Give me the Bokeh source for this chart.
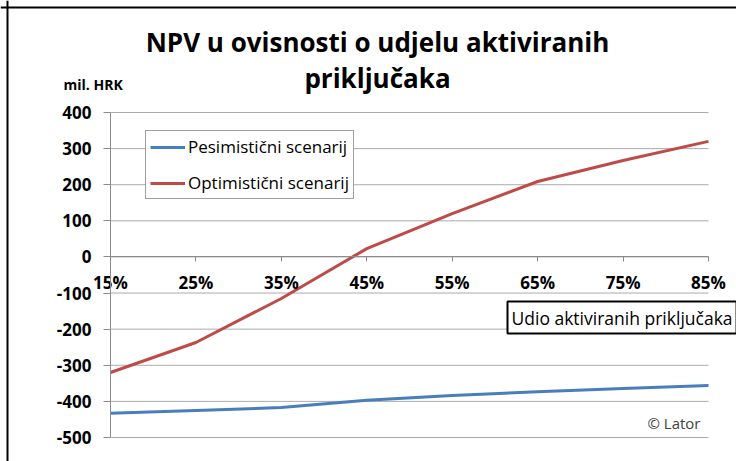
from bokeh.plotting import figure
from bokeh.models import Label, Legend, LegendItem, FixedTicker, Range1d, Span
from bokeh.embed import file_html
from bokeh.resources import INLINE

shares = [15, 25, 35, 45, 55, 65, 75, 85]
share_labels = ["15%", "25%", "35%", "45%", "55%", "65%", "75%", "85%"]
pessimistic = [-433, -425, -417, -397, -384, -373, -364, -356]
optimistic = [-320, -237, -115, 23, 120, 209, 267, 320]
y_ticks = [-500, -400, -300, -200, -100, 0, 100, 200, 300, 400]
y_tick_labels = ["-500", "-400", "-300", "-200", "-100", "0", "100", "200", "300", "400"]

title_lines = ["NPV u ovisnosti o udjelu aktiviranih", "priključaka"]
unit_label = "mil. HRK"
x_title = "Udio aktiviranih priključaka"
credit = "© Lator"
series_names = ["Pesimistični scenarij", "Optimistični scenarij"]

FONT = "Open Sans"

# canvas geometry (px); the frame fills the whole canvas
W, H = 736, 461
plot_left, plot_right = 110, 708      # where 15% and 85% sit
plot_top, plot_bottom = 112, 437      # where 400 and -500 sit
x_min, x_max = shares[0], shares[-1]
y_min, y_max = y_ticks[0], y_ticks[-1]
kx = (x_max - x_min) / (plot_right - plot_left)
ky = (y_max - y_min) / (plot_bottom - plot_top)
x_range = Range1d(x_min - plot_left * kx, x_max + (W - plot_right) * kx)
y_range = Range1d(y_min - (H - plot_bottom) * ky, y_max + plot_top * ky)

p = figure(width=W, height=H, output_backend="svg", toolbar_location=None,
           x_range=x_range, y_range=y_range, min_border=0)
p.outline_line_color = None
p.background_fill_color = "white"
p.border_fill_color = "white"
p.grid.visible = False

# gridlines between first and last category
p.segment(x0=[x_min] * len(y_ticks), x1=[x_max] * len(y_ticks), y0=y_ticks, y1=y_ticks,
          line_color="#ababab", line_width=1)

# y axis at the first category
p.yaxis.fixed_location = x_min
p.yaxis.bounds = (y_min, y_max)
p.yaxis.ticker = FixedTicker(ticks=y_ticks)
p.yaxis.major_label_overrides = {v: t for v, t in zip(y_ticks, y_tick_labels)}
p.yaxis.axis_line_color = "#8c8c8c"
p.yaxis.major_tick_line_color = "#8c8c8c"
p.yaxis.major_tick_out = 7
p.yaxis.major_tick_in = 0
p.yaxis.minor_tick_line_color = None
p.yaxis.major_label_text_font = FONT
p.yaxis.major_label_text_font_style = "bold"
p.yaxis.major_label_text_font_size = "17px"
p.yaxis.major_label_text_color = "black"
p.yaxis.major_label_standoff = 12

# x axis at zero
p.xaxis.fixed_location = 0
p.xaxis.bounds = (x_min, x_max)
p.xaxis.ticker = FixedTicker(ticks=shares)
p.xaxis.major_label_overrides = {s: l for s, l in zip(shares, share_labels)}
p.xaxis.axis_line_color = "#8c8c8c"
p.xaxis.major_tick_line_color = "#8c8c8c"
p.xaxis.major_tick_out = 5
p.xaxis.major_tick_in = 0
p.xaxis.minor_tick_line_color = None
p.xaxis.major_label_text_font = FONT
p.xaxis.major_label_text_font_style = "bold"
p.xaxis.major_label_text_font_size = "17px"
p.xaxis.major_label_text_color = "black"
p.xaxis.major_label_standoff = 9

r1 = p.line(shares, pessimistic, line_color="#4a7ebb", line_width=3)
r2 = p.line(shares, optimistic, line_color="#be4b48", line_width=3)

legend = Legend(items=[LegendItem(label=series_names[0], renderers=[r1]),
                       LegendItem(label=series_names[1], renderers=[r2])],
                location=(145, 262), orientation="vertical")
legend.border_line_color = "#404040"
legend.border_line_width = 1
legend.background_fill_color = "white"
legend.background_fill_alpha = 1
legend.padding = 4
legend.margin = 0
legend.spacing = 13
legend.label_height = 20
legend.glyph_height = 20
legend.glyph_width = 35
legend.label_standoff = 3
legend.label_text_font = FONT
legend.label_text_font_size = "17px"
legend.label_text_color = "black"
p.add_layout(legend, "center")

def lbl(x, y, text, size, bold=False, align="left", **kw):
    p.add_layout(Label(x=x, y=y, x_units="screen", y_units="screen", text=text,
                       text_align=align, text_baseline="middle", text_font=FONT,
                       text_font_style="bold" if bold else "normal",
                       text_font_size=size, text_color=kw.pop("color", "black"), **kw))

lbl(377, 420, title_lines[0], "26px", bold=True, align="center")
lbl(377, 384, title_lines[1], "26px", bold=True, align="center")
lbl(63, 377, unit_label, "14px", bold=True)
lbl(507, 144, x_title, "17.5px", border_line_color="black", border_line_width=2,
    background_fill_color="white", padding=4)
lbl(700, 39, credit, "15px", align="right", color="#404040")

# outer frame (left and top edges)
p.add_layout(Span(location=7, location_units="screen", dimension="height",
                  line_color="black", line_width=2))
p.add_layout(Span(location=H - 7, location_units="screen", dimension="width",
                  line_color="black", line_width=2))

open("out.html", "w").write(file_html(p, INLINE))
